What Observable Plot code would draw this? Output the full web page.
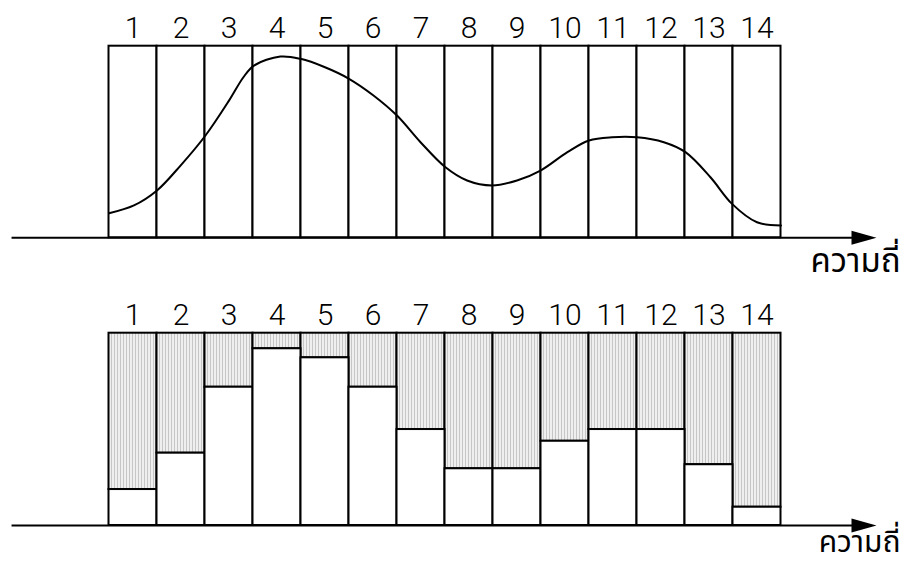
<!DOCTYPE html>
<html>
<head>
<meta charset="utf-8">
<script src="https://cdn.jsdelivr.net/npm/d3@7"></script>
<script src="https://cdn.jsdelivr.net/npm/@observablehq/plot@0.6"></script>
<style>
  html, body { margin: 0; padding: 0; background: #fff; }
  #chart > svg { display: block; }
</style>
</head>
<body>
<div id="chart"></div>
<script>
// ---- data ----
const binLabels = ["1","2","3","4","5","6","7","8","9","10","11","12","13","14"];
const axisLabel = "ความถี่";
// smooth frequency curve (x in bin units 0..14, frequency in % of box height)
const curveX = [0, 0.52, 1.0, 1.49, 2.01, 2.5, 2.8, 3.02, 3.57, 3.99, 4.5, 5.0, 5.51, 6.0, 6.49, 7.01, 7.46, 7.98, 8.5, 8.99, 9.55, 10.0, 10.48, 11.0, 11.56, 12.01, 12.53, 12.98, 13.5, 14.0];
const curveF = [12.8, 16.9, 24.7, 37.7, 53.4, 71.6, 83.8, 89.9, 94.6, 93.4, 89.0, 83.0, 74.3, 63.8, 49.9, 36.8, 29.9, 27.3, 29.9, 35.1, 44.7, 50.8, 52.5, 52.5, 49.9, 44.7, 31.6, 17.7, 8.1, 6.4];
// histogram bar heights (white part) in % of box height
const barF = [18.7, 37.6, 71.9, 91.9, 87.2, 71.9, 49.9, 29.5, 29.5, 43.8, 49.9, 49.9, 31.6, 9.5];
const boxTop = 100;
const axisStartX = -2.02;   // where the horizontal axis line starts (bin units)
const arrowTipX = 15.99;    // arrow tip (bin units)
const labelEndX = 16.49;    // right end of "ความถี่"

const curveData = curveX.map((x, i) => ({x, f: curveF[i]}));
const bars = binLabels.map((label, i) => ({label, i, f: barF[i]}));

const thaiFont = "'Noto Sans Thai', 'Noto Sans Thai Looped', Loma, Garuda, Kinnari, 'Tlwg Typo', 'DejaVu Sans', sans-serif";
const digitFont = "Roboto, 'Liberation Sans', Arial, sans-serif";

// filled arrowhead symbol (tip at the anchor point)
const arrowHead = {
  draw(ctx) {
    ctx.moveTo(0, 0);
    ctx.lineTo(-25, -7);
    ctx.lineTo(-25, 7);
    ctx.closePath();
  }
};

function panel(height, yRange, histogram, labelDy, labelSize) {
  const marks = [];
  if (histogram) {
    marks.push(
      Plot.rect(bars, {x1: d => d.i, x2: d => d.i + 1, y1: d => d.f, y2: boxTop, fill: "url(#stripes)", stroke: "black", strokeWidth: 2}),
      Plot.rect(bars, {x1: d => d.i, x2: d => d.i + 1, y1: 0, y2: d => d.f, fill: "white", stroke: "black", strokeWidth: 2})
    );
  } else {
    marks.push(
      Plot.rect(bars, {x1: d => d.i, x2: d => d.i + 1, y1: 0, y2: boxTop, fill: "white", stroke: "black", strokeWidth: 2}),
      Plot.line(curveData, {x: "x", y: "f", curve: "catmull-rom", stroke: "black", strokeWidth: 2})
    );
  }
  marks.push(
    Plot.ruleY([0], {x1: axisStartX, x2: arrowTipX - 0.4, stroke: "black", strokeWidth: 2}),
    Plot.dot([0], {x: arrowTipX, y: 0, symbol: arrowHead, fill: "black", stroke: "none", r: 5}),
    Plot.text(bars, {x: d => d.i + 0.5, y: boxTop, text: "label", dy: -8, lineAnchor: "bottom", fontSize: 30, fontWeight: 300, fontFamily: digitFont, fill: "black"}),
    Plot.text([axisLabel], {x: labelEndX, y: 0, text: d => d, textAnchor: "end", lineAnchor: "bottom", dy: labelDy, fontSize: labelSize, fontFamily: thaiFont, fill: "black"})
  );
  const svg = Plot.plot({
    width: 904,
    height,
    margin: 0,
    style: {background: "white", overflow: "visible"},
    x: {domain: [0, 14], range: [108.5, 780.5], axis: null},
    y: {domain: [0, 100], range: yRange, axis: null},
    marks
  });
  const defs = document.createElementNS("http://www.w3.org/2000/svg", "defs");
  defs.innerHTML = '<pattern id="stripes" width="3" height="3" patternUnits="userSpaceOnUse"><rect width="3" height="3" fill="#efefef"/><rect width="1" height="3" fill="#c6c6c6"/></pattern>';
  svg.insertBefore(defs, svg.firstChild);
  return svg;
}

const root = document.getElementById("chart");
root.appendChild(panel(290, [237.3, 45.7], false, 34, 33));
root.appendChild(panel(274, [235, 42.7], true, 26, 30));
</script>
</body>
</html>
